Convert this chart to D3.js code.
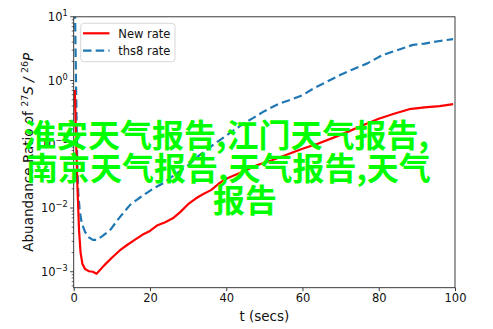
<!DOCTYPE html>
<html>
<head>
<meta charset="utf-8">
<script src="https://cdn.jsdelivr.net/npm/d3@7/dist/d3.min.js"></script>
<style>
  html, body { margin: 0; padding: 0; background: #fff; }
  svg { display: block; }
</style>
</head>
<body>
<svg id="chart" width="493" height="329"></svg>
<script>
// Time (s) and abundance ratio for the new rate
const tNew = [0.3, 0.6, 1.0, 1.4, 1.8, 2.3, 3, 4, 5, 6, 8, 10, 12, 14, 16, 18, 20, 22, 24, 26, 28, 30,
  32, 34, 36, 38, 40, 44, 48, 52, 56, 60, 64, 68, 72, 76, 80, 84, 88, 92, 96, 99.5];
const ratioNew = [0.71, 0.126, 0.020, 0.0045, 0.0020, 0.00132, 0.0011, 0.00102, 0.00100, 0.00093,
  0.00126, 0.00166, 0.00214, 0.00263, 0.00316, 0.0038, 0.00437, 0.00537, 0.0060, 0.0069, 0.0087,
  0.0115, 0.0141, 0.0166, 0.0191, 0.024, 0.0288, 0.0363, 0.0468, 0.0562, 0.0692, 0.0851, 0.102,
  0.126, 0.158, 0.200, 0.251, 0.302, 0.355, 0.380, 0.398, 0.427];

// Time (s) and abundance ratio for the ths8 rate
const tThs8 = [0.3, 0.6, 0.9, 1.2, 1.6, 2.0, 2.5, 3.0, 4.0, 5.0, 6.0, 7.5, 9.5, 12, 14.8, 17, 19, 21,
  23.5, 26, 30, 33, 37, 41, 45, 47, 50, 54, 57, 60, 63, 66, 70, 73, 77, 81, 85, 89, 92, 96, 99.5];
const ratioThs8 = [20, 1.0, 0.063, 0.017, 0.0089, 0.0063, 0.0050, 0.0042, 0.00347, 0.00316, 0.00316,
  0.00363, 0.00447, 0.00708, 0.0112, 0.0141, 0.0170, 0.0204, 0.0245, 0.0316, 0.0468, 0.0676, 0.102,
  0.151, 0.219, 0.257, 0.331, 0.437, 0.501, 0.589, 0.759, 0.933, 1.23, 1.48, 1.86, 2.51, 3.02, 3.63,
  3.80, 4.17, 4.47];

const xTicks = [0, 20, 40, 60, 80, 100];
const yExponents = [-3, -2, -1, 0, 1];
const seriesNames = ["New rate", "ths8 rate"];
const overlayLines = ["淮安天气报告,江门天气报告,", "南京天气报告,天气报告,天气", "报告"];

const svg = d3.select("#chart");
const plotL = 73.7, plotR = 455, plotT = 16.8, plotB = 287.7;

const x = d3.scaleLinear().domain([0, 100]).range([plotL, plotR]);
const y = d3.scaleLog().domain([Math.pow(10, -3.25), 10]).range([plotB, plotT]);

const font = "DejaVu Sans, sans-serif";
const axisColor = "#262626";

svg.append("defs").append("clipPath").attr("id", "plotClip")
  .append("rect").attr("x", plotL).attr("y", plotT)
  .attr("width", plotR - plotL).attr("height", plotB - plotT);

// Series lines
const lineGen = (ts) => d3.line().x((d, i) => x(ts[i])).y(d => y(d));

svg.append("path")
  .attr("clip-path", "url(#plotClip)")
  .attr("d", lineGen(tThs8)(ratioThs8))
  .attr("fill", "none").attr("stroke", "#1f77b4").attr("stroke-width", 2.2)
  .attr("stroke-dasharray", "8.5,4.2").attr("stroke-linejoin", "round");

svg.append("path")
  .attr("clip-path", "url(#plotClip)")
  .attr("d", lineGen(tNew)(ratioNew))
  .attr("fill", "none").attr("stroke", "#ff0000").attr("stroke-width", 2.2)
  .attr("stroke-linejoin", "round");

// Frame
svg.append("rect").attr("x", plotL).attr("y", plotT)
  .attr("width", plotR - plotL).attr("height", plotB - plotT)
  .attr("fill", "none").attr("stroke", axisColor).attr("stroke-width", 0.9);

// X axis
const xAxis = d3.axisBottom(x).tickValues(xTicks).tickSize(3.5).tickPadding(3).tickFormat(d3.format("d"));
const gx = svg.append("g").attr("transform", `translate(0,${plotB})`).call(xAxis);
gx.select(".domain").remove();
gx.selectAll("line").attr("stroke", axisColor).attr("stroke-width", 0.9);
gx.selectAll("text").attr("font-family", font).attr("font-size", 11.5).attr("fill", "#111");

// Y axis: major ticks with power-of-ten labels, minor ticks at 2..9
const minorVals = [];
for (let e = -4; e <= 0; e++) {
  for (let m = 2; m <= 9; m++) {
    const v = m * Math.pow(10, e);
    if (v >= y.domain()[0] && v <= y.domain()[1]) minorVals.push(v);
  }
}
const gy = svg.append("g");
gy.selectAll("line.minor").data(minorVals).join("line")
  .attr("class", "minor")
  .attr("x1", plotL).attr("x2", plotL - 2)
  .attr("y1", d => y(d)).attr("y2", d => y(d))
  .attr("stroke", axisColor).attr("stroke-width", 0.7);
gy.selectAll("line.major").data(yExponents).join("line")
  .attr("class", "major")
  .attr("x1", plotL).attr("x2", plotL - 3.5)
  .attr("y1", d => y(Math.pow(10, d))).attr("y2", d => y(Math.pow(10, d)))
  .attr("stroke", axisColor).attr("stroke-width", 0.9);
const yl = gy.selectAll("text").data(yExponents).join("text")
  .attr("x", plotL - 6).attr("y", d => y(Math.pow(10, d)) + 4)
  .attr("text-anchor", "end")
  .attr("font-family", font).attr("font-size", 11.5).attr("fill", "#111");
yl.append("tspan").text("10");
yl.append("tspan").attr("dy", -5).attr("font-size", 8.2)
  .text(d => (d < 0 ? "\u2212" + Math.abs(d) : String(d)));

// Axis titles
svg.append("text")
  .attr("x", (plotL + plotR) / 2).attr("y", 321)
  .attr("text-anchor", "middle")
  .attr("font-family", font).attr("font-size", 13.5).attr("fill", "#111")
  .text("t (secs)");

const ylab = svg.append("text")
  .attr("transform", `translate(33,${(plotT + plotB) / 2}) rotate(-90)`)
  .attr("text-anchor", "middle")
  .attr("font-family", font).attr("font-size", 13.5).attr("fill", "#111");
ylab.append("tspan").text("Abuandance Ratio of ");
ylab.append("tspan").attr("dy", -5).attr("font-size", 9.5).text("27");
ylab.append("tspan").attr("dy", 5).attr("font-style", "italic").text("S");
ylab.append("tspan").attr("font-style", "italic").text(" / ");
ylab.append("tspan").attr("dy", -5).attr("font-size", 9.5).text("26");
ylab.append("tspan").attr("dy", 5).attr("font-style", "italic").text("P");

// Legend
const lg = svg.append("g");
lg.append("rect").attr("x", 80.7).attr("y", 23.3).attr("width", 94.3).attr("height", 38.4)
  .attr("rx", 3).attr("fill", "#fff").attr("fill-opacity", 0.85)
  .attr("stroke", "#d3d3d3").attr("stroke-width", 0.9);
const legendStyles = [
  { color: "#ff0000", dash: null },
  { color: "#1f77b4", dash: "8.5,4.2" }
];
seriesNames.forEach((name, i) => {
  const yy = 33.3 + i * 17.4;
  lg.append("line").attr("x1", 83).attr("x2", 109.5).attr("y1", yy).attr("y2", yy)
    .attr("stroke", legendStyles[i].color).attr("stroke-width", 2.2)
    .attr("stroke-dasharray", legendStyles[i].dash);
  lg.append("text").attr("x", 118.3).attr("y", yy + 4.2)
    .attr("font-family", font).attr("font-size", 11.5).attr("fill", "#111")
    .text(name);
});

// Overlay caption
const cap = svg.append("g")
  .attr("font-family", "Noto Sans CJK SC, sans-serif")
  .attr("font-weight", "bold").attr("font-size", 32).attr("fill", "#00ff00");
const capPos = [[24, 147], [26, 180], [213, 212]];
overlayLines.forEach((s, i) => {
  cap.append("text").attr("x", capPos[i][0]).attr("y", capPos[i][1]).text(s);
});
</script>
</body>
</html>
